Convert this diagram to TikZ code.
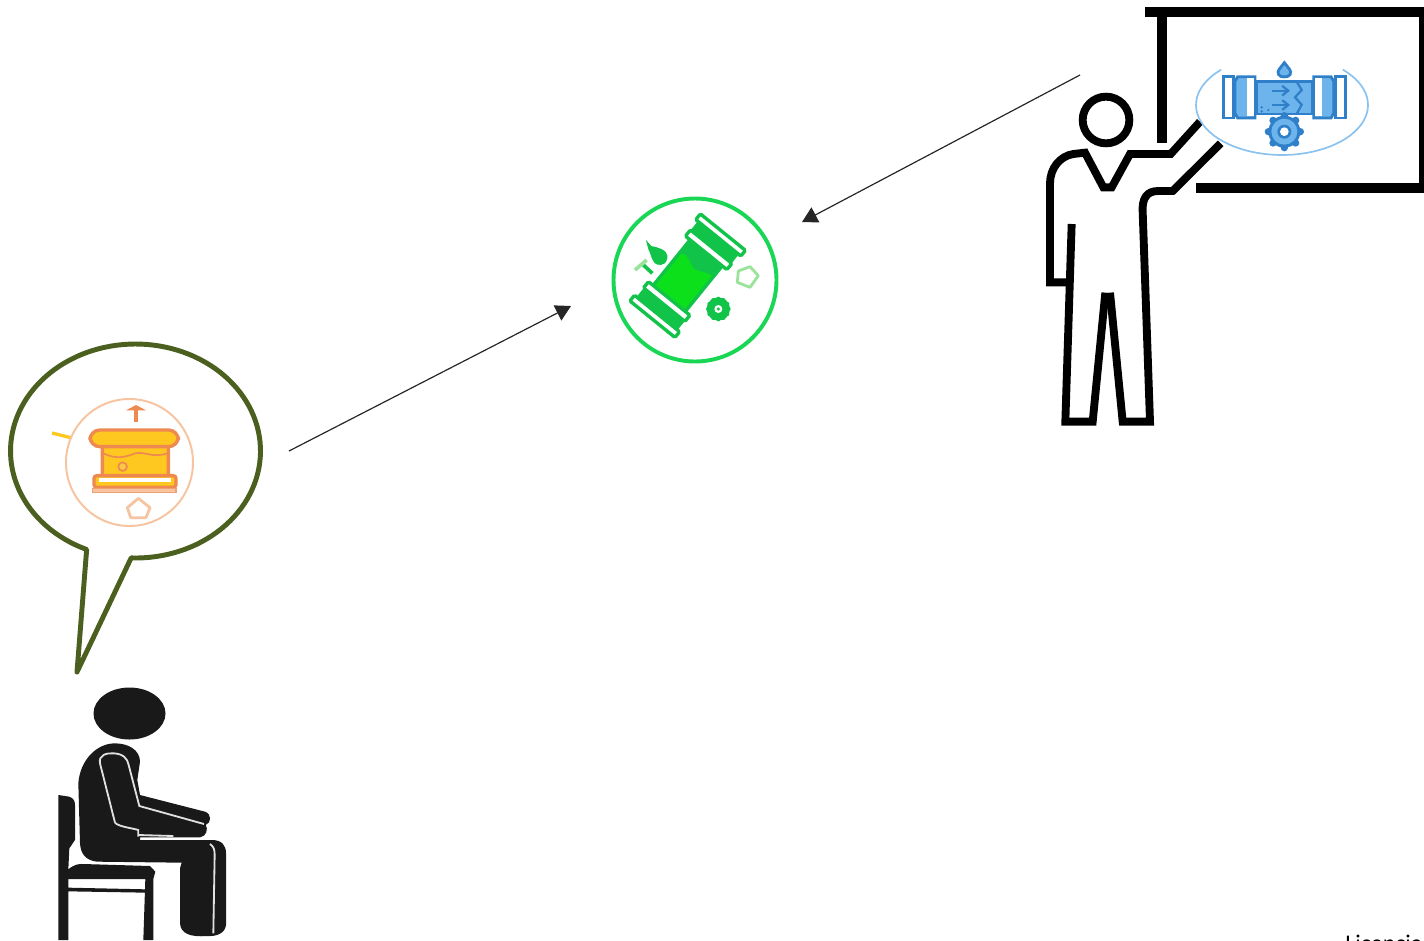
\documentclass[tikz,border=0pt]{standalone}
\usepackage{fontspec}
\setmainfont{Carlito}
\usetikzlibrary{arrows.meta}
\definecolor{balloongreen}{HTML}{4B5F1F}
\definecolor{pipeblue}{HTML}{2F80C8}
\definecolor{pipesky}{HTML}{6DB3EC}
\definecolor{ringgreen}{HTML}{1AD655}
\definecolor{pipegreen}{HTML}{12C34A}
\definecolor{brightgreen}{HTML}{0BE01B}
\definecolor{palegreen}{HTML}{9BE39B}
\definecolor{pipeorange}{HTML}{EE8A50}
\definecolor{paleorange}{HTML}{F6C4A0}
\definecolor{pipeyellow}{HTML}{FFC820}
\begin{document}
\begin{tikzpicture}[x=.25mm,y=-.25mm,line cap=butt,line join=miter,
 >={Triangle[length=3.8mm,width=4.2mm]},
 flow/.style={draw=black!85,line width=.85pt,->},
 figure/.style={draw=black,line width=5.6pt},
 boardline/.style={draw=black,line width=7pt},
 seam/.style={draw=black!12,line width=1.3pt},
 blueline/.style={draw=pipeblue,line width=2pt},
 greenline/.style={draw=pipegreen,line width=2.4pt,rounded corners=1pt},
 orangeline/.style={draw=pipeorange,line width=2.4pt,rounded corners=2pt}]
\useasboundingbox (0,0) rectangle (1424,940);
\clip (0,0) rectangle (1424,940);
% speech balloon
\draw[balloongreen,line width=3.5pt,line join=round,fill=white]
 plot[domain=113:452,samples=120,variable=\t]
 ({135.5+125*cos(\t)},{451+107*sin(\t)}) -- (77,672) -- cycle;
% seated person
\fill[black!90] (129.5,713.5) ellipse[x radius=36,y radius=26];
\begin{scope}[shift={(40,680)},scale=1/3]
\fill[black!90] (55,345) -- (88,350) .. controls (100,355) and (105,362) .. (105,375)
 -- (105,480) -- (88,505) -- (85,568) .. controls (105,552) and (115,552) .. (130,552)
 -- (330,558) -- (346,575) -- (340,597) -- (340,780) -- (310,780) -- (316,597)
 -- (85,597) -- (85,623) -- (318,628) -- (318,638) -- (85,634)
 -- (85,780) -- (55,780) -- cycle;
\fill[black!90] (225,190) .. controls (265,190) and (300,210) .. (300,245)
 -- (292,300) -- (300,345) -- (495,395) .. controls (515,402) and (515,428) .. (497,435)
 .. controls (505,445) and (500,470) .. (480,472) -- (300,472) -- (300,480)
 -- (515,480) .. controls (545,480) and (558,495) .. (558,520)
 -- (558,735) .. controls (555,760) and (530,770) .. (500,768)
 .. controls (450,772) and (422,760) .. (420,730) -- (420,565) -- (425,548)
 -- (170,545) .. controls (135,540) and (122,520) .. (120,490)
 -- (115,310) .. controls (120,240) and (170,190) .. (225,190) -- cycle;
\draw[seam] (225,428) -- (180,250) .. controls (175,225) and (200,218) .. (222,220)
 .. controls (250,222) and (262,235) .. (266,255) -- (298,378) -- (492,432);
\draw[seam] (225,428) .. controls (235,440) and (280,445) .. (295,450) -- (295,470);
\draw[seam] (295,465) -- (400,468);
\draw[seam] (510,492) .. controls (522,500) and (524,510) .. (524,525) -- (520,760);
\end{scope}
% teacher
\begin{scope}[shift={(1030,80)},scale=1/3]
\draw[figure] (228,120) circle[radius=70];
\draw[figure] (510,125) -- (422,222) -- (300,222) -- (245,322) -- (220,322) -- (165,218)
 -- (130,222) .. controls (90,228) and (60,265) .. (60,310) -- (60,607) -- (125,607);
\draw[figure] (125,432) -- (106,1025) -- (188,1025) -- (226,638);
\draw[figure] (240,638) -- (278,1025) -- (360,1025) -- (338,395)
 .. controls (336,355) and (350,333) .. (385,333) -- (428,333) -- (572,190);
\end{scope}
% board
\draw[boardline] (1145,12) -- (1424,12);
\draw[boardline] (1162,12) -- (1162,143);
\draw[boardline] (1196,188) -- (1424,188);
\draw[boardline] (1424,12) -- (1424,188);
% blue pipe badge
\fill[white] (1282,105) ellipse[x radius=86,y radius=50];
\draw[pipesky!80,line width=1.2pt] plot[domain=-45:225,samples=60,variable=\t]
 ({1282+86*cos(\t)},{105+50*sin(\t)});
\begin{scope}[shift={(1180,40)},scale=1/3]
\begin{scope}[shift={(313,172)}]
\foreach \side in {1,-1}{
\begin{scope}[xscale=\side]
\draw[blueline,fill=white] (-183,-62) rectangle (-153,62);
\draw[blueline,fill=pipesky] (-148,-48) -- (-140,-62) -- (-88,-62) -- (-88,62) -- (-140,62) -- (-148,48) -- cycle;
\fill[white] (-113,-57) rectangle (-92,57);
\end{scope}
}
\draw[blueline,fill=pipesky] (-84,-47) rectangle (84,50);
\draw[pipeblue,line width=1.6pt] (37,-47) -- (52,-22) -- (32,0) -- (52,22) -- (37,50);
\foreach \ypos in {-20,23}{
\draw[pipeblue,line width=1.6pt,-{Straight Barb[length=1.5mm,width=2.4mm]}] (-38,\ypos) -- (17,\ypos);
}
\fill[pipeblue] (-68,30) circle[radius=4] (-48,38) circle[radius=4] (-68,42) circle[radius=4];
\end{scope}
\draw[blueline,fill=pipesky] (313,68) .. controls (325,85) and (337,92) .. (330,104)
 .. controls (325,113) and (301,113) .. (296,104) .. controls (289,92) and (301,85) .. (313,68) -- cycle;
\foreach \a in {0,45,...,315}{
\fill[pipeblue] (313,275) ++(\a:48) circle[radius=11];
}
\fill[pipeblue] (313,275) circle[radius=48];
\fill[pipesky] (313,275) circle[radius=39];
\fill[pipeblue] (313,275) circle[radius=21];
\fill[white] (313,275) circle[radius=13];
\end{scope}
% green pipe badge
\draw[ringgreen,line width=2.8pt] (695,280) circle[radius=81.5];
\begin{scope}[shift={(600,185)},scale=1/3]
\begin{scope}[shift={(263,272)},rotate=51]
\draw[greenline,fill=brightgreen] (-92,-62) rectangle (92,62);
\fill[pipegreen] (37,-62) .. controls (60,-35) and (20,-10) .. (30,10)
 .. controls (35,25) and (45,35) .. (46,62) -- (92,62) -- (92,-62) -- cycle;
\foreach \side in {1,-1}{
\begin{scope}[xscale=\side]
\draw[greenline,fill=pipegreen] (110,-74) rectangle (150,74);
\draw[greenline,fill=white] (88,-80) rectangle (112,80);
\draw[greenline,fill=white] (146,-87) rectangle (168,87);
\end{scope}
}
\end{scope}
\foreach \a in {0,30,...,330}{
\fill[pipegreen] (355,372) ++(\a:31) circle[radius=6];
}
\fill[pipegreen] (355,372) circle[radius=35];
\fill[white] (355,372) circle[radius=12];
\fill[pipegreen] (355,372) circle[radius=5];
\draw[greenline,fill=pipegreen] (148,188) .. controls (170,190) and (198,200) .. (197,218)
 .. controls (194,237) and (172,237) .. (165,227) .. controls (158,215) and (155,200) .. (148,188) -- cycle;
\draw[pipegreen,line width=2.6pt] (125,235) -- (157,265);
\draw[palegreen,line width=2.6pt] (105,255) -- (140,225);
\draw[palegreen,line width=2pt,line join=round] (475,272) -- (450,245) -- (415,258) -- (412,292) -- (450,307) -- cycle;
\end{scope}
% orange badge
\draw[pipeyellow,line width=2.4pt] (52,433) -- (72,438);
\draw[paleorange,line width=1.4pt,fill=white] (129.5,462.5) circle[radius=63.5];
\begin{scope}[shift={(40,385)},scale=1/3]
\draw[orangeline,fill=pipeyellow] (187,180) rectangle (385,275);
\draw[pipeorange,line width=1.2pt] (190,205) .. controls (230,225) and (260,215) .. (285,205)
 .. controls (310,198) and (340,220) .. (382,205);
\draw[pipeorange,line width=1.2pt,fill=pipeyellow!70!paleorange] (248,245) circle[radius=13];
\draw[draw=pipeorange,line width=2.4pt,fill=pipeyellow,rounded corners=7pt] (150,135) rectangle (415,185);
\draw[orangeline,fill=pipeyellow] (162,272) rectangle (408,307);
\fill[white] (178,280) rectangle (392,291);
\draw[draw=pipeorange!60!paleorange,line width=1pt,fill=paleorange] (158,310) rectangle (408,322);
\draw[pipeorange,line width=2.6pt] (288,68) -- (288,112);
\fill[pipeorange] (258,76) -- (288,60) -- (318,76) -- (296,76) -- (288,72) -- (280,76) -- cycle;
\draw[paleorange,line width=2pt,line join=round] (295,340) -- (330,368) -- (318,398) -- (272,398) -- (262,368) -- cycle;
\end{scope}
% arrows
\coordinate (teacherstart) at (1080,75);
\coordinate (teacherend) at (802,222);
\coordinate (pupilstart) at (289,451);
\coordinate (pupilend) at (571,306);
\draw[flow] (teacherstart) -- (teacherend);
\draw[flow] (pupilstart) -- (pupilend);
\node[anchor=base west,inner sep=0pt,font=\fontsize{17}{20}\selectfont] (licence) at (1345,951) {Licencia};
\end{tikzpicture}
\end{document}
